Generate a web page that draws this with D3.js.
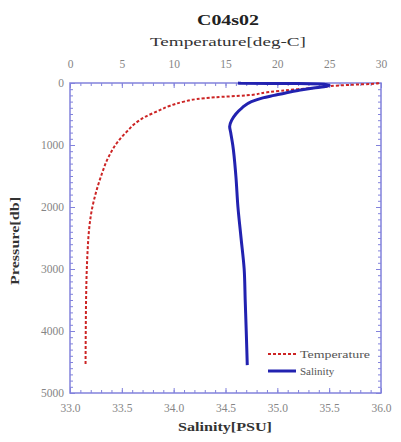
<!DOCTYPE html>
<html>
<head>
<meta charset="utf-8">
<script src="https://cdn.jsdelivr.net/npm/d3@7"></script>
<style>
  body { margin: 0; background: #fff; }
  svg { display: block; }
  text { font-family: "Liberation Serif", "Times New Roman", serif; }
</style>
</head>
<body>
<div id="chart"></div>
<script>
// pressure levels [db] with temperature [deg-C]
var tempPressure = [0, 10, 30, 50, 80, 100, 150, 200, 230, 260, 300, 370, 450, 550, 650, 780, 950,
                    1200, 1500, 1800, 2050, 2400, 2700, 3000, 3500, 4000, 4550];
var tempValues = [29.8, 29.5, 27, 25, 23.5, 22, 19, 17, 14, 12.2, 11, 9.6, 8.5, 7.2, 6.3, 5.5, 4.6,
                  3.7, 3.0, 2.45, 2.1, 1.82, 1.7, 1.62, 1.55, 1.52, 1.5];

// pressure levels [db] with salinity [PSU]
var salPressure = [0, 5, 10, 20, 40, 60, 80, 120, 160, 200, 240, 300, 400, 500, 600, 700, 800,
                   1000, 1500, 2000, 2500, 3000, 3500, 4000, 4550];
var salValues = [34.62, 34.65, 35.2, 35.45, 35.5, 35.45, 35.35, 35.2, 35.08, 34.97, 34.86, 34.75,
                 34.66, 34.6, 34.56, 34.54, 34.55, 34.57, 34.6, 34.62, 34.65, 34.68, 34.69, 34.7, 34.71];

var tempTicks = [0, 5, 10, 15, 20, 25, 30];
var salTicks = [33.0, 33.5, 34.0, 34.5, 35.0, 35.5, 36.0];
var pressureTicks = [0, 1000, 2000, 3000, 4000, 5000];

var width = 401, height = 442;
var frame = { left: 70, right: 381, top: 83, bottom: 393 };
var axisColor = '#8282dc';

var svg = d3.select('#chart').append('svg')
  .attr('width', width)
  .attr('height', height);

var y = d3.scaleLinear().domain([0, 5000]).range([frame.top, frame.bottom]);
var xT = d3.scaleLinear().domain([0, 30]).range([frame.left, frame.right]);
var xS = d3.scaleLinear().domain([33, 36]).range([frame.left, frame.right]);

var styleAxis = function(g) {
  g.attr('font-family', null);
  g.select('.domain').remove();
  g.selectAll('line').attr('stroke', axisColor);
  g.selectAll('text')
    .attr('fill', '#858585')
    .style('font-size', '11.5px')
    .style('font-family', '"Liberation Serif", "Times New Roman", serif');
};

// minor ticks first
svg.append('g').attr('transform', 'translate(0,' + frame.top + ')')
  .call(d3.axisTop(xT).tickValues(d3.range(0, 31, 1)).tickSize(-3).tickFormat(''))
  .call(styleAxis);
svg.append('g').attr('transform', 'translate(0,' + frame.bottom + ')')
  .call(d3.axisBottom(xS).tickValues(d3.range(330, 361, 1).map(function(d) { return d / 10; })).tickSize(-3).tickFormat(''))
  .call(styleAxis);
svg.append('g').attr('transform', 'translate(' + frame.left + ',0)')
  .call(d3.axisLeft(y).tickValues(d3.range(0, 5001, 100)).tickSize(-3).tickFormat(''))
  .call(styleAxis);
svg.append('g').attr('transform', 'translate(' + frame.right + ',0)')
  .call(d3.axisRight(y).tickValues(d3.range(0, 5001, 100)).tickSize(-3).tickFormat(''))
  .call(styleAxis);

// major ticks + labels
svg.append('g').attr('transform', 'translate(0,' + frame.top + ')')
  .call(d3.axisTop(xT).tickValues(tempTicks).tickSize(-5).tickPadding(15).tickFormat(d3.format('d')))
  .call(styleAxis);
svg.append('g').attr('transform', 'translate(0,' + frame.bottom + ')')
  .call(d3.axisBottom(xS).tickValues(salTicks).tickSize(-5).tickPadding(11).tickFormat(d3.format('.1f')))
  .call(styleAxis);
svg.append('g').attr('transform', 'translate(' + frame.left + ',0)')
  .call(d3.axisLeft(y).tickValues(pressureTicks).tickSize(-5).tickPadding(6).tickFormat(d3.format('d')))
  .call(styleAxis);
svg.append('g').attr('transform', 'translate(' + frame.right + ',0)')
  .call(d3.axisRight(y).tickValues(pressureTicks).tickSize(-5).tickFormat(''))
  .call(styleAxis);

// frame
svg.append('rect')
  .attr('x', frame.left)
  .attr('y', frame.top)
  .attr('width', frame.right - frame.left)
  .attr('height', frame.bottom - frame.top)
  .attr('fill', 'none')
  .attr('stroke', axisColor)
  .attr('stroke-width', 1.5);

// profiles
var tempLine = d3.line()
  .curve(d3.curveMonotoneY)
  .x(function(d, i) { return xT(tempValues[i]); })
  .y(function(d) { return y(d); });
var salLine = d3.line()
  .curve(d3.curveMonotoneY)
  .x(function(d, i) { return xS(salValues[i]); })
  .y(function(d) { return y(d); });

svg.append('path')
  .attr('d', tempLine(tempPressure))
  .attr('fill', 'none')
  .attr('stroke', '#cc2424')
  .attr('stroke-width', 2)
  .attr('stroke-dasharray', '3,2');

svg.append('path')
  .attr('d', salLine(salPressure))
  .attr('fill', 'none')
  .attr('stroke', '#2222b0')
  .attr('stroke-width', 3)
  .attr('stroke-linejoin', 'round');

// titles
svg.append('text')
  .attr('x', 228).attr('y', 25)
  .attr('text-anchor', 'middle')
  .attr('font-weight', 'bold')
  .attr('font-size', 14)
  .attr('fill', '#222')
  .attr('textLength', 62).attr('lengthAdjust', 'spacingAndGlyphs')
  .text('C04s02');

svg.append('text')
  .attr('x', 228).attr('y', 46)
  .attr('text-anchor', 'middle')
  .attr('font-size', 13)
  .attr('fill', '#333')
  .attr('textLength', 156).attr('lengthAdjust', 'spacingAndGlyphs')
  .text('Temperature[deg-C]');

svg.append('text')
  .attr('x', 225).attr('y', 431)
  .attr('text-anchor', 'middle')
  .attr('font-weight', 'bold')
  .attr('font-size', 12)
  .attr('fill', '#333')
  .attr('textLength', 94).attr('lengthAdjust', 'spacingAndGlyphs')
  .text('Salinity[PSU]');

svg.append('text')
  .attr('transform', 'translate(19,241) rotate(-90)')
  .attr('text-anchor', 'middle')
  .attr('font-weight', 'bold')
  .attr('font-size', 12)
  .attr('fill', '#333')
  .attr('textLength', 88).attr('lengthAdjust', 'spacingAndGlyphs')
  .text('Pressure[db]');

// legend
var legend = svg.append('g');
legend.append('line')
  .attr('x1', 268).attr('x2', 296).attr('y1', 354).attr('y2', 354)
  .attr('stroke', '#cc2424').attr('stroke-width', 2).attr('stroke-dasharray', '3,2');
legend.append('text')
  .attr('x', 300).attr('y', 358)
  .attr('font-size', 11).attr('fill', '#555')
  .attr('textLength', 70).attr('lengthAdjust', 'spacingAndGlyphs')
  .text('Temperature');
legend.append('line')
  .attr('x1', 268).attr('x2', 296).attr('y1', 371).attr('y2', 371)
  .attr('stroke', '#2222b0').attr('stroke-width', 3);
legend.append('text')
  .attr('x', 300).attr('y', 375)
  .attr('font-size', 11).attr('fill', '#555')
  .text('Salinity');
</script>
</body>
</html>
